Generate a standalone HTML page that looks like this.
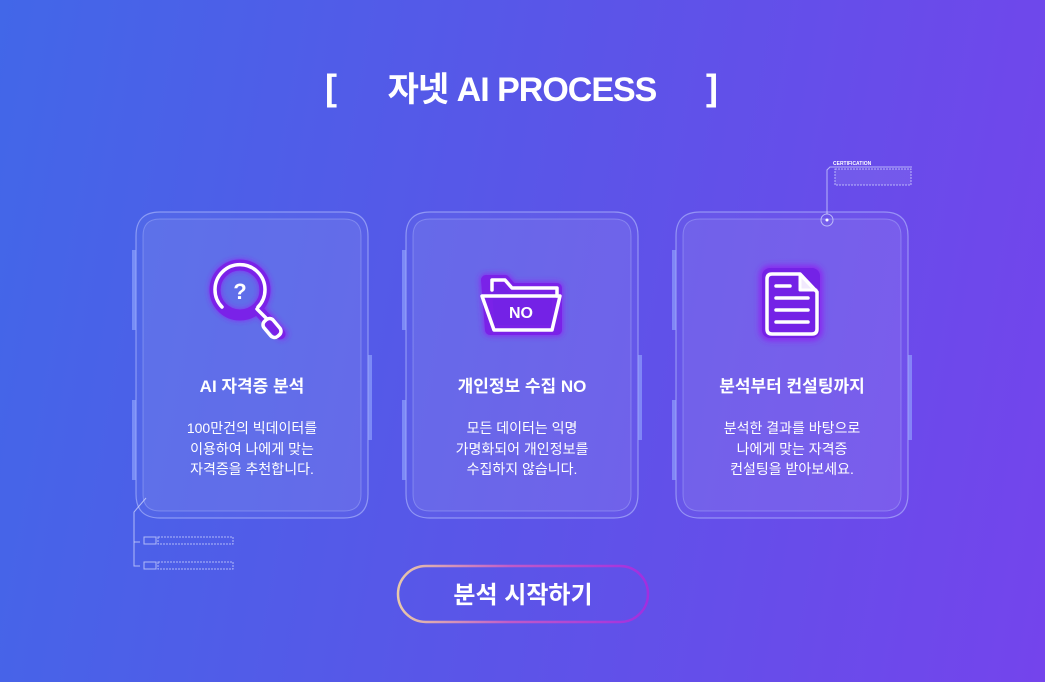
<!DOCTYPE html>
<html><head><meta charset="utf-8"><style>
html,body{margin:0;padding:0}
body{width:1045px;height:682px;overflow:hidden;background:linear-gradient(100deg,#4267e8 0%,#5a55e8 50%,#7444ec 100%);font-family:"Liberation Sans","Noto Sans CJK KR",sans-serif}
svg{position:absolute;left:0;top:0}
</style></head><body>
<svg width="1045" height="682" viewBox="0 0 1045 682" font-family="Liberation Sans, Noto Sans CJK KR, sans-serif">
<defs>
<linearGradient id="btn" x1="0" x2="1"><stop offset="0" stop-color="#e8c9a8"/><stop offset="0.45" stop-color="#c05ac8"/><stop offset="1" stop-color="#a12ee0"/></linearGradient>
<filter id="glow" x="-50%" y="-50%" width="200%" height="200%"><feGaussianBlur stdDeviation="3"/></filter>
<g id="card">
 <path d="M24 0H208Q232 0 232 24V282Q232 306 208 306H24Q0 306 0 282V24Q0 0 24 0Z" fill="rgba(255,255,255,0.04)" stroke="rgba(190,200,255,0.55)" stroke-width="1.2"/>
 <path d="M24 7H208Q225 7 225 24V282Q225 299 208 299H24Q7 299 7 282V24Q7 7 24 7Z" fill="rgba(255,255,255,0.07)" stroke="rgba(190,200,255,0.35)" stroke-width="1"/>
 <rect x="-4" y="38" width="4" height="80" fill="rgba(150,170,255,0.6)"/>
 <rect x="-4" y="188" width="4" height="80" fill="rgba(150,170,255,0.6)"/>
 <rect x="232" y="143" width="4" height="85" fill="rgba(150,170,255,0.6)"/>
</g>
</defs>
<text x="325" y="100" fill="#fff" font-size="36" font-weight="bold">[</text>
<text x="706" y="100" fill="#fff" font-size="36" font-weight="bold">]</text>
<text x="522" y="101" text-anchor="middle" fill="#fff" font-size="34" font-weight="bold" letter-spacing="-1">자넷 AI PROCESS</text>

<use href="#card" x="136" y="212"/>
<use href="#card" x="406" y="212"/>
<use href="#card" x="676" y="212"/>

<!-- icon 1: magnifier -->
<g fill="none" stroke-linecap="round">
 <g stroke="#8a2cf0" stroke-width="11" filter="url(#glow)"><circle cx="240" cy="290" r="25"/><path d="M258 308L282 334"/></g>
 <g stroke="#7a22e8" stroke-width="11"><circle cx="240" cy="290" r="25"/><path d="M260 312L280 334"/></g>
 <g stroke="#fff" stroke-width="3.5"><path d="M258 307A25 25 0 1 0 222 307"/><path d="M257 309L266 318"/><rect x="266" y="318" width="12" height="20" rx="5" transform="rotate(-40 272 328)"/></g>
 <text x="240" y="299" text-anchor="middle" fill="#fff" font-size="22" font-weight="bold" stroke="none">?</text>
</g>
<!-- icon 2: folder -->
<g fill="none" stroke-linejoin="round" stroke-linecap="round">
 <path d="M486 280H505L512 288H557V330H490Z" stroke="#8a2cf0" stroke-width="12" filter="url(#glow)"/>
 <path d="M486 280H505L512 288H557V330H490Z" fill="#7422e6" stroke="#7a22e8" stroke-width="10"/>
 <path d="M492 290V280H505L512 288H557V296" stroke="#fff" stroke-width="3.5"/>
 <path d="M482 296H560L552 330H494Z" stroke="#fff" stroke-width="3.5"/>
 <text x="521" y="318" text-anchor="middle" fill="#fff" font-size="16" font-weight="bold" stroke="none">NO</text>
</g>
<!-- icon 3: document -->
<g fill="none" stroke-linecap="round" stroke-linejoin="round">
 <rect x="762" y="268" width="58" height="70" rx="8" fill="#7a22e8" stroke="#8a2cf0" stroke-width="6" filter="url(#glow)"/>
 <rect x="762" y="268" width="58" height="70" rx="8" fill="#7422e6"/>
 <path d="M767 279Q767 274 772 274H800L817 292V329Q817 334 812 334H772Q767 334 767 329Z" stroke="#fff" stroke-width="3.5"/>
 <path d="M800 275V290H816" stroke="#fff" stroke-width="3" fill="#fff" fill-opacity="0.9"/>
 <path d="M776 286H790M776 298H808M776 310H808M776 322H808" stroke="#fff" stroke-width="3.5"/>
</g>

<g fill="#fff" text-anchor="middle">
 <text x="252" y="392" font-size="17" font-weight="bold">AI 자격증 분석</text>
 <text x="252" y="433" font-size="14">100만건의 빅데이터를</text>
 <text x="252" y="454" font-size="14">이용하여 나에게 맞는</text>
 <text x="252" y="474" font-size="14">자격증을 추천합니다.</text>
 <text x="522" y="392" font-size="17" font-weight="bold">개인정보 수집 NO</text>
 <text x="522" y="433" font-size="14">모든 데이터는 익명</text>
 <text x="522" y="454" font-size="14">가명화되어 개인정보를</text>
 <text x="522" y="474" font-size="14">수집하지 않습니다.</text>
 <text x="792" y="392" font-size="17" font-weight="bold">분석부터 컨설팅까지</text>
 <text x="792" y="433" font-size="14">분석한 결과를 바탕으로</text>
 <text x="792" y="454" font-size="14">나에게 맞는 자격증</text>
 <text x="792" y="474" font-size="14">컨설팅을 받아보세요.</text>
</g>

<g stroke="rgba(220,225,255,0.7)" fill="none" stroke-width="1">
 <path d="M146 498L134 512V566H140"/>
 <path d="M134 542H140"/>
 <rect x="144" y="537" width="12" height="7"/><rect x="158" y="537" width="75" height="7" stroke-dasharray="2 1"/>
 <rect x="144" y="562" width="12" height="7"/><rect x="158" y="562" width="75" height="7" stroke-dasharray="2 1"/>
 <path d="M827 214V170L830 167H912"/>
 <circle cx="827" cy="220" r="6"/>
 <rect x="835" y="169" width="76" height="16" stroke-dasharray="2 1" fill="rgba(255,255,255,0.08)"/>
</g>
<circle cx="827" cy="220" r="1.5" fill="#fff"/>
<text x="833" y="165" fill="#fff" font-size="5" font-weight="bold">CERTIFICATION</text>

<rect x="398" y="566" width="250" height="56" rx="28" fill="none" stroke="url(#btn)" stroke-width="2.5"/>
<text x="523" y="603" text-anchor="middle" fill="#fff" font-size="24" font-weight="bold">분석 시작하기</text>
</svg>
</body></html>
